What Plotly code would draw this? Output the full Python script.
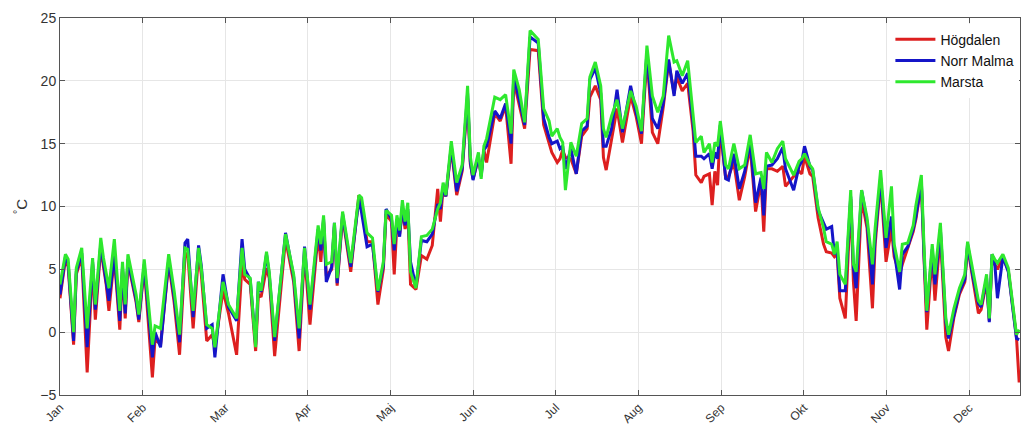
import plotly.graph_objects as go

# day index (days from 1 Jan)
day = [0, 2, 3, 5, 6, 8, 10, 12, 13, 15, 16, 17, 18, 20, 22, 23, 24, 25, 28, 29,
       31, 34, 35, 37, 40, 42, 44, 46, 47, 49, 51, 52, 54, 56, 57, 60, 62, 65, 67, 68,
       70, 72, 73, 74, 76, 77, 79, 83, 86, 88, 90, 92, 95, 96, 97, 98, 100, 101, 102, 104,
       107, 110, 111, 113, 115, 117, 119, 120, 122, 123, 124, 125, 126, 127, 128, 129, 131, 133, 135, 137,
       139, 140, 141, 142, 144, 146, 148, 150, 151, 152, 154, 155, 156, 157, 160, 162, 164, 166, 167, 169,
       171, 173, 176, 178, 180, 181, 183, 184, 185, 186, 188, 190, 192, 194, 195, 197, 199, 200, 201, 203,
       205, 207, 210, 212, 214, 216, 218, 220, 222, 224, 226, 227, 229, 231, 233, 234, 236, 237, 239, 240,
       241, 242, 243, 245, 246, 248, 250, 252, 254, 256, 258, 259, 260, 262, 264, 266, 267, 270, 272, 273,
       274, 276, 277, 279, 281, 282, 284, 285, 286, 287, 289, 291, 292, 293, 295, 297, 299, 300, 302, 304,
       306, 307, 309, 310, 312, 314, 315, 317, 318, 319, 321, 322, 324, 326, 327, 329, 331, 333, 334, 336,
       338, 339, 341, 342, 343, 344, 345, 347, 349, 352, 353]

marsta = [3.8, 6.2, 5.8, 0.0, 5.1, 6.7, 0.3, 5.9, 2.2, 7.5, 5.9, 4.7, 3.5, 7.4, 1.7, 5.6, 2.2, 6.2, 3.0, 1.4,
          5.8, -1.0, 0.5, 0.3, 6.2, 3.3, -0.2, 6.7, 6.6, 1.7, 6.7, 5.1, 0.6, 0.3, -1.2, 4.0, 2.2, 1.1, 6.7, 4.6,
          4.3, -1.2, 4.0, 3.3, 6.4, 4.8, -0.4, 7.8, 4.6, 0.3, 6.7, 2.2, 8.5, 7.0, 9.3, 5.4, 5.6, 8.7, 4.3, 9.6,
          5.5, 10.9, 10.7, 7.9, 7.5, 3.3, 5.6, 9.7, 9.3, 7.0, 9.3, 8.1, 10.5, 8.8, 10.3, 4.8, 3.5, 7.6, 7.7, 8.2,
          9.8, 10.3, 11.9, 10.9, 15.2, 11.9, 13.3, 19.6, 14.0, 12.5, 14.3, 12.2, 14.8, 15.4, 18.7, 18.5, 18.9, 15.8, 20.9, 19.3,
          16.7, 24.0, 23.3, 17.8, 16.8, 15.6, 16.2, 15.5, 15.1, 11.3, 15.1, 14.0, 16.6, 17.0, 20.3, 21.5, 19.6, 16.2, 15.5, 17.2,
          18.5, 16.2, 19.2, 18.0, 16.0, 22.8, 18.8, 17.5, 18.8, 23.6, 21.5, 21.6, 20.4, 21.6, 17.0, 15.1, 15.6, 14.3, 15.0, 13.5,
          15.1, 14.8, 16.8, 13.3, 13.0, 15.0, 13.0, 13.3, 15.7, 12.6, 12.7, 11.4, 14.3, 13.5, 14.6, 15.2, 13.8, 12.5, 13.6, 13.8,
          14.2, 13.3, 13.0, 9.9, 8.3, 7.2, 7.0, 6.2, 7.2, 4.6, 3.8, 11.3, 5.4, 4.8, 11.3, 9.1, 5.4, 8.3, 12.9, 7.5,
          11.6, 7.0, 4.8, 7.0, 7.1, 8.5, 10.1, 12.5, 6.7, 1.7, 7.0, 4.6, 8.7, 1.1, -0.2, 1.9, 3.5, 4.6, 7.2, 4.8,
          2.5, 2.2, 4.6, 1.1, 6.2, 5.8, 5.5, 6.2, 5.1, -0.2, 0.2]

norr_malma = [3.0, 6.0, 5.5, -0.7, 4.8, 6.3, -1.2, 5.6, 1.8, 7.0, 5.5, 4.0, 2.5, 6.2, 0.9, 5.2, 1.5, 5.8, 2.6, 1.0,
              5.4, -2.0, 0.0, -1.2, 5.8, 2.8, -0.8, 7.1, 7.4, 1.2, 6.9, 5.3, 0.3, 0.6, -2.0, 4.6, 2.0, 0.9, 7.4, 5.0,
              4.2, -1.0, 4.0, 3.2, 6.2, 4.6, -0.7, 7.9, 4.4, -0.5, 6.8, 1.8, 8.2, 6.5, 9.0, 4.0, 5.2, 8.7, 3.9, 9.4,
              5.2, 10.6, 9.5, 6.8, 7.0, 3.2, 5.3, 9.8, 9.0, 6.5, 9.0, 7.6, 10.0, 8.5, 9.8, 5.6, 3.6, 7.3, 7.2, 7.8,
              10.2, 9.8, 11.6, 10.8, 14.8, 11.2, 13.0, 19.0, 13.6, 12.1, 14.0, 12.4, 14.5, 14.8, 17.6, 17.0, 18.2, 15.0, 20.4, 18.5,
              16.5, 23.5, 23.0, 17.0, 15.5, 15.0, 15.2, 14.6, 14.8, 13.0, 14.6, 12.6, 16.0, 16.4, 20.1, 21.0, 19.0, 14.8, 14.8, 16.2,
              19.3, 15.9, 19.6, 17.5, 15.8, 22.3, 17.0, 16.2, 18.2, 21.7, 18.8, 20.8, 19.8, 20.6, 16.6, 14.0, 14.0, 13.8, 14.2, 13.0,
              14.3, 13.8, 16.5, 12.2, 12.1, 14.2, 11.4, 12.8, 15.2, 10.3, 12.3, 9.3, 13.2, 13.3, 13.8, 14.7, 13.0, 11.3, 13.2, 13.6,
              14.8, 13.2, 12.9, 9.7, 8.6, 8.2, 8.4, 6.2, 6.5, 3.3, 3.3, 10.8, 5.1, 3.5, 11.3, 8.8, 3.8, 7.6, 12.3, 6.7,
              9.2, 6.5, 3.4, 6.2, 6.8, 8.2, 9.2, 12.0, 6.0, 1.6, 6.6, 3.8, 8.2, 0.8, -0.5, 1.4, 3.2, 4.2, 7.0, 4.4,
              2.3, 2.0, 4.3, 0.8, 6.2, 5.5, 2.7, 6.0, 4.8, -0.5, -0.6]

hogdalen = [2.7, 5.8, 5.2, -1.0, 4.6, 6.0, -3.2, 5.4, 1.0, 6.8, 5.2, 3.8, 1.7, 6.0, 0.2, 5.0, 1.1, 5.6, 2.4, 0.8,
            5.2, -3.6, -0.5, -1.0, 5.5, 2.4, -1.8, 6.0, 6.3, 0.3, 6.2, 4.6, -0.7, -0.2, -1.2, 3.3, 1.5, -1.8, 5.4, 4.2,
            3.8, -1.5, 3.0, 2.8, 5.1, 4.3, -1.9, 7.4, 4.0, -1.5, 6.3, 0.6, 7.8, 5.6, 8.8, 4.5, 5.0, 8.4, 3.7, 9.2,
            4.8, 10.9, 10.2, 7.2, 7.2, 2.2, 5.0, 9.4, 8.8, 4.6, 8.6, 7.8, 9.8, 8.2, 9.6, 3.8, 3.4, 6.1, 5.8, 6.9,
            11.4, 8.8, 11.5, 10.8, 14.6, 10.9, 12.8, 18.6, 13.4, 12.2, 13.8, 12.6, 14.5, 13.5, 17.4, 16.8, 18.0, 13.4, 20.0, 18.2,
            16.2, 22.5, 22.4, 16.5, 15.0, 14.3, 13.5, 13.8, 14.5, 13.9, 13.8, 12.6, 15.6, 16.2, 18.7, 19.6, 18.5, 13.9, 12.9, 15.5,
            17.8, 15.1, 18.8, 17.2, 15.0, 22.0, 15.9, 15.0, 17.9, 21.5, 19.0, 20.3, 19.2, 19.8, 16.0, 12.5, 11.9, 12.4, 12.6, 10.1,
            12.8, 11.7, 16.2, 12.2, 12.4, 13.5, 10.5, 12.4, 14.8, 9.6, 12.0, 8.0, 13.0, 13.0, 12.8, 13.2, 11.6, 12.4, 12.8, 12.6,
            14.0, 12.6, 12.4, 9.1, 7.0, 6.4, 6.3, 6.0, 6.2, 2.7, 1.1, 10.6, 4.0, 0.9, 10.6, 8.3, 1.9, 7.0, 12.0, 5.6,
            8.2, 6.0, 4.6, 5.4, 6.7, 8.0, 9.0, 11.8, 5.8, 0.2, 6.2, 2.5, 7.8, -0.4, -1.5, 1.2, 3.0, 4.0, 6.8, 4.0,
            1.5, 1.8, 4.0, 0.9, 5.9, 5.4, 5.0, 6.0, 4.9, -0.4, -4.0]

month_labels = ["Jan", "Feb", "Mar", "Apr", "Maj", "Jun", "Jul", "Aug", "Sep", "Okt", "Nov", "Dec"]
month_ticks = [i * 365 / 12 for i in range(12)]

series = [("Högdalen", hogdalen, "#dd1f1f"),
          ("Norr Malma", norr_malma, "#1515c8"),
          ("Marsta", marsta, "#2ee82e")]

fig = go.Figure()
for name, vals, col in series:
    fig.add_trace(go.Scatter(x=day, y=vals, mode="lines", name=name,
                             line=dict(color=col, width=3)))

axis_common = dict(showline=True, linecolor="#555555", linewidth=1, mirror="ticks",
                   ticks="inside", ticklen=5, tickcolor="#555555",
                   showgrid=True, gridcolor="#e6e6e6", gridwidth=1, zeroline=False)

fig.update_xaxes(range=[0, 353.3], tickvals=month_ticks, ticktext=month_labels,
                 tickangle=-45, tickfont=dict(family="Liberation Sans, Arial", size=12, color="#333333"),
                 **axis_common)
fig.update_yaxes(range=[-5, 25], dtick=5, tickfont=dict(family="Liberation Sans, Arial", size=14, color="#333333"),
                 title=dict(text="<sup>°</sup>C", font=dict(family="Liberation Sans, Arial", size=15, color="#333333"),
                            standoff=8),
                 **axis_common)

fig.update_layout(width=1023, height=428,
                  margin=dict(l=60, r=2, t=18, b=31),
                  paper_bgcolor="white", plot_bgcolor="white",
                  legend=dict(x=0.865, y=0.985, xanchor="left", yanchor="top",
                              bgcolor="white", borderwidth=0,
                              font=dict(family="Liberation Sans, Arial", size=14, color="#111111"),
                              tracegroupgap=0, itemwidth=40))

fig.write_html("out.html")
